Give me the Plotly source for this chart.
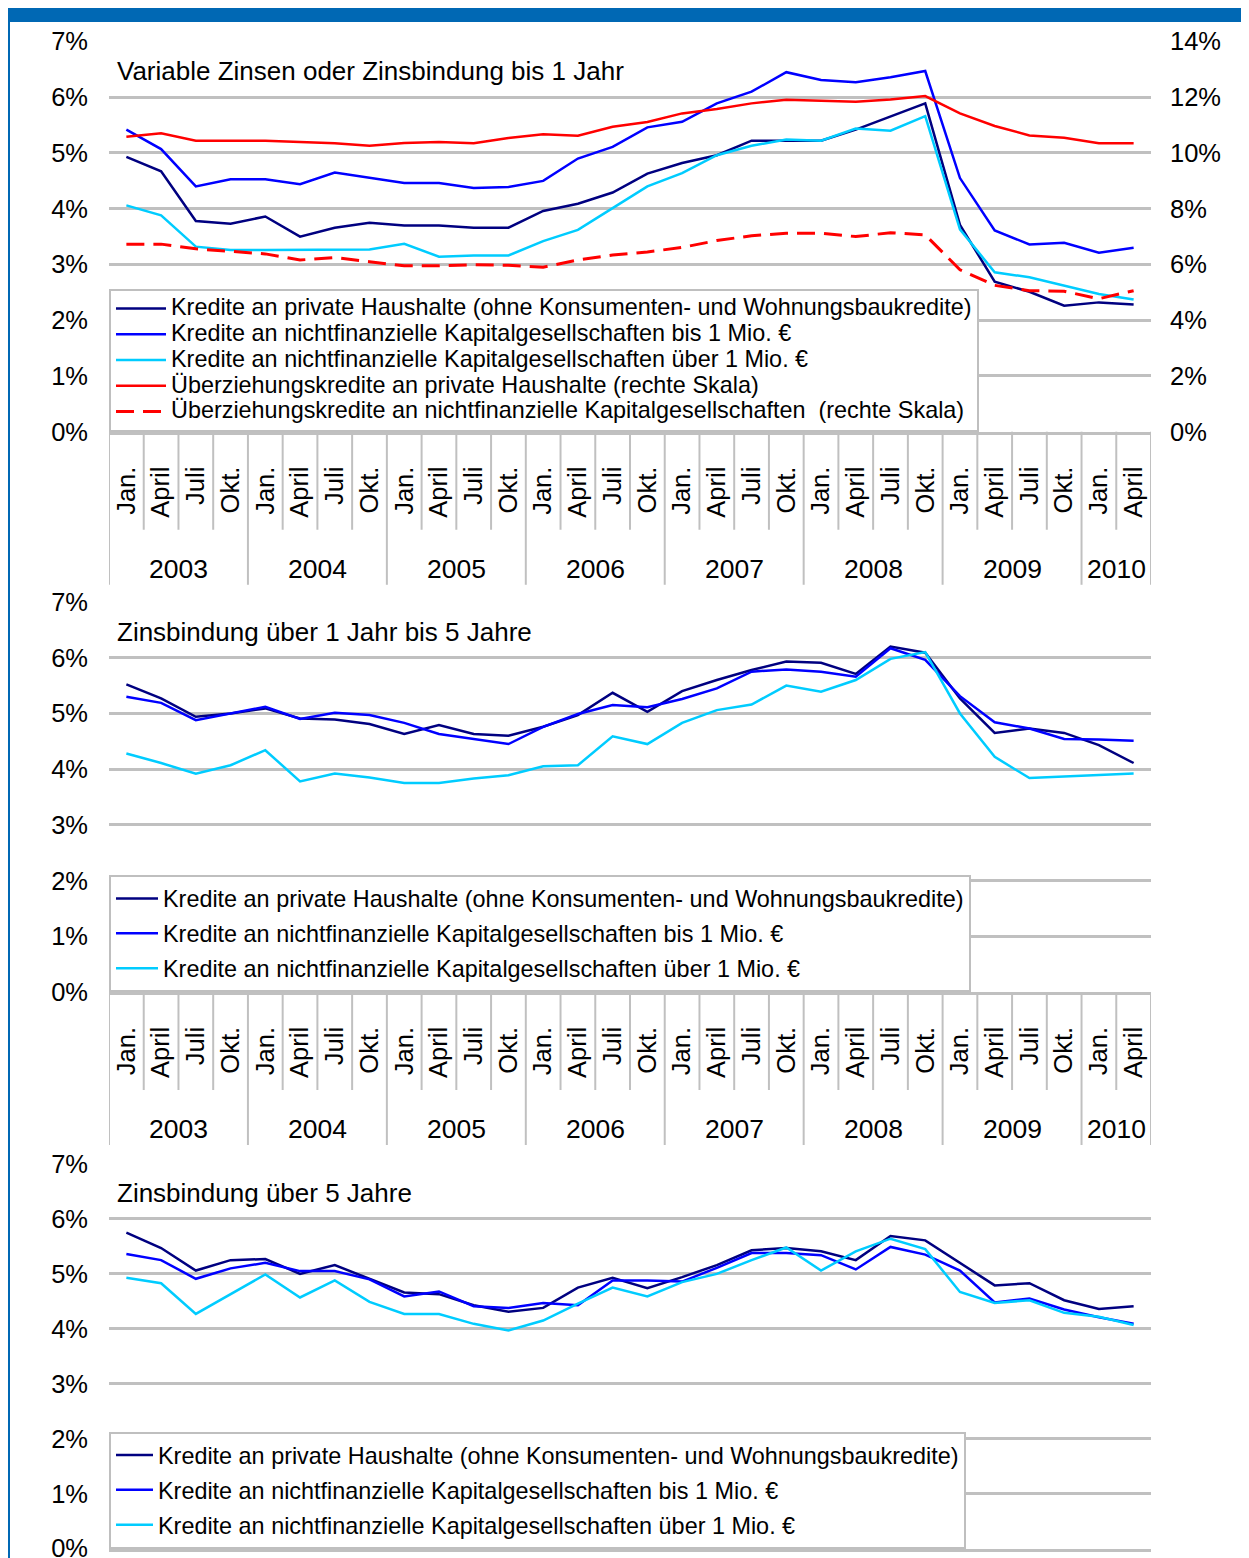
import plotly.graph_objects as go

# ---------------- data ----------------
quarters = ["Jan.", "April", "Juli", "Okt."] * 7 + ["Jan.", "April"]
years = ["2003", "2004", "2005", "2006", "2007", "2008", "2009", "2010"]
year_len = [4, 4, 4, 4, 4, 4, 4, 2]
x_idx = list(range(len(quarters)))

names = [
    "Kredite an private Haushalte (ohne Konsumenten- und Wohnungsbaukredite)",
    "Kredite an nichtfinanzielle Kapitalgesellschaften bis 1 Mio. €",
    "Kredite an nichtfinanzielle Kapitalgesellschaften über 1 Mio. €",
    "Überziehungskredite an private Haushalte (rechte Skala)",
    "Überziehungskredite an nichtfinanzielle Kapitalgesellschaften\u00a0 (rechte Skala)",
]
titles = [
    "Variable Zinsen oder Zinsbindung bis 1 Jahr",
    "Zinsbindung über 1 Jahr bis 5 Jahre",
    "Zinsbindung über 5 Jahre",
]

# Panel 1: variable / up to 1 year
p1_haushalte = [4.93, 4.67, 3.78, 3.73, 3.86, 3.50, 3.66, 3.75, 3.70, 3.70,
                3.66, 3.66, 3.96, 4.09, 4.29, 4.63, 4.82, 4.96, 5.22, 5.22,
                5.22, 5.42, 5.66, 5.89, 3.71, 2.69, 2.51, 2.26, 2.32, 2.28]
p1_kg_bis1 = [5.42, 5.07, 4.40, 4.53, 4.53, 4.44, 4.65, 4.55, 4.46, 4.46,
              4.37, 4.39, 4.50, 4.90, 5.11, 5.46, 5.56, 5.89, 6.10, 6.45,
              6.31, 6.27, 6.36, 6.47, 4.55, 3.61, 3.36, 3.39, 3.21, 3.30]
p1_kg_ueber1 = [4.06, 3.88, 3.32, 3.26, 3.26, 3.26, 3.27, 3.27, 3.37, 3.14,
                3.16, 3.16, 3.42, 3.62, 4.01, 4.40, 4.64, 4.96, 5.13, 5.24,
                5.22, 5.44, 5.40, 5.66, 3.63, 2.86, 2.77, 2.62, 2.47, 2.37]
p1_ueberz_hh = [10.58, 10.71, 10.44, 10.44, 10.44, 10.39, 10.35, 10.26, 10.36, 10.39,
                10.35, 10.54, 10.67, 10.62, 10.94, 11.11, 11.42, 11.58, 11.78, 11.91,
                11.88, 11.84, 11.92, 12.04, 11.42, 10.97, 10.63, 10.55, 10.35, 10.35]
p1_ueberz_kg = [6.73, 6.73, 6.56, 6.46, 6.38, 6.16, 6.25, 6.10, 5.95, 5.95,
                5.99, 5.97, 5.90, 6.16, 6.34, 6.45, 6.61, 6.86, 7.03, 7.12,
                7.12, 7.00, 7.14, 7.06, 5.81, 5.25, 5.06, 5.04, 4.77, 5.06]

# Panel 2: 1 to 5 years
p2_haushalte = [5.52, 5.27, 4.94, 5.00, 5.09, 4.91, 4.89, 4.81, 4.63, 4.79,
                4.63, 4.60, 4.76, 4.97, 5.37, 5.03, 5.40, 5.60, 5.78, 5.93,
                5.91, 5.71, 6.20, 6.09, 5.27, 4.65, 4.73, 4.65, 4.43, 4.11]
p2_kg_bis1 = [5.30, 5.19, 4.88, 5.00, 5.12, 4.90, 5.01, 4.97, 4.83, 4.63,
              4.54, 4.45, 4.76, 4.99, 5.15, 5.11, 5.26, 5.45, 5.75, 5.79,
              5.75, 5.66, 6.17, 5.96, 5.31, 4.84, 4.73, 4.54, 4.53, 4.51]
p2_kg_ueber1 = [4.28, 4.11, 3.92, 4.07, 4.34, 3.78, 3.92, 3.85, 3.75, 3.75,
                3.83, 3.89, 4.05, 4.07, 4.59, 4.45, 4.83, 5.06, 5.16, 5.50,
                5.39, 5.60, 5.98, 6.10, 5.00, 4.22, 3.84, 3.87, 3.89, 3.92]

# Panel 3: over 5 years
p3_haushalte = [5.75, 5.47, 5.06, 5.25, 5.27, 5.00, 5.16, 4.91, 4.66, 4.63,
                4.43, 4.31, 4.38, 4.75, 4.93, 4.74, 4.94, 5.16, 5.43, 5.47,
                5.41, 5.25, 5.69, 5.61, 5.20, 4.79, 4.83, 4.52, 4.36, 4.41]
p3_kg_bis1 = [5.36, 5.25, 4.91, 5.10, 5.20, 5.05, 5.05, 4.90, 4.59, 4.68,
              4.41, 4.38, 4.47, 4.43, 4.88, 4.88, 4.86, 5.11, 5.38, 5.38,
              5.34, 5.08, 5.49, 5.35, 5.06, 4.48, 4.55, 4.35, 4.21, 4.09]
p3_kg_ueber1 = [4.93, 4.83, 4.27, 4.63, 4.99, 4.57, 4.88, 4.49, 4.27, 4.27,
                4.09, 3.97, 4.15, 4.46, 4.75, 4.59, 4.85, 5.00, 5.25, 5.48,
                5.06, 5.41, 5.64, 5.45, 4.67, 4.47, 4.52, 4.29, 4.22, 4.07]

# ---------------- geometry (page pixels; the page body adds an 8px margin) ----------------
OFF = 8
FW, FH = 1249 - OFF, 1558 - OFF


def px(p):
    return max(0.0, (p - OFF) / FW)


def py(p):
    return min(1.0, 1 - (p - OFF) / FH)


X_DOM = [px(109), px(1151)]
P1 = [py(431.7), py(41.5)]
P2 = [py(992.0), py(602.0)]
P3 = [py(1548.5), py(1164.0)]

FONT = "Liberation Sans, Arial, sans-serif"
GRID = "#c0c0c0"
C_NAVY = "#000080"
C_BLUE = "#0000ff"
C_CYAN = "#00ccff"
C_RED = "#ff0000"
FRAME = "#0068b4"
LEG_TXT = '<span style="font-size:23.4px">%s</span>'

fig = go.Figure()


def add(y, name, color, xa, ya, legend, group, dash="solid", width=2.5):
    fig.add_trace(go.Scatter(
        x=x_idx, y=y, name=LEG_TXT % name, mode="lines",
        line=dict(color=color, width=width, dash=dash),
        xaxis=xa, yaxis=ya, legend=legend, legendgroup=group,
        hoverinfo="skip",
    ))


add(p1_haushalte, names[0], C_NAVY, "x", "y", "legend", "a1")
add(p1_kg_bis1, names[1], C_BLUE, "x", "y", "legend", "a2")
add(p1_kg_ueber1, names[2], C_CYAN, "x", "y", "legend", "a3")
add(p1_ueberz_hh, names[3], C_RED, "x", "y4", "legend", "a4")
add(p1_ueberz_kg, names[4], C_RED, "x", "y4", "legend", "a5", dash="18px,9px", width=3)

add(p2_haushalte, names[0], C_NAVY, "x2", "y2", "legend2", "b1")
add(p2_kg_bis1, names[1], C_BLUE, "x2", "y2", "legend2", "b2")
add(p2_kg_ueber1, names[2], C_CYAN, "x2", "y2", "legend2", "b3")

add(p3_haushalte, names[0], C_NAVY, "x3", "y3", "legend3", "c1")
add(p3_kg_bis1, names[1], C_BLUE, "x3", "y3", "legend3", "c2")
add(p3_kg_ueber1, names[2], C_CYAN, "x3", "y3", "legend3", "c3")

tickfont = dict(size=25.5, color="black", family=FONT)


def xaxis(anchor, labels=True):
    return dict(
        domain=X_DOM, anchor=anchor, range=[-0.5, len(x_idx) - 0.5],
        tickmode="array", tickvals=x_idx, ticktext=quarters, tickangle=-90,
        tickfont=tickfont, showticklabels=labels, showgrid=False, zeroline=False,
        showline=True, linecolor=GRID, linewidth=2.5, ticks="",
        ticklabelstandoff=22, automargin=False, fixedrange=True,
    )


def yaxis(dom, anchor):
    return dict(
        domain=dom, anchor=anchor, range=[0, 7], tick0=0, dtick=1,
        ticksuffix="%", tickfont=tickfont, showgrid=True, gridcolor=GRID,
        gridwidth=2.5, zeroline=False, showline=False, ticks="",
        ticklabelstandoff=20, ticklabeloverflow="allow",
        automargin=False, fixedrange=True,
    )


def legend(y, fsize, itemwidth, gap):
    return dict(
        bgcolor="white", bordercolor="#bfbfbf", borderwidth=2,
        font=dict(size=fsize, color="black", family=FONT),
        xanchor="left", yanchor="bottom", x=X_DOM[0], y=y,
        traceorder="grouped", itemwidth=itemwidth, tracegroupgap=gap,
    )


fig.update_layout(
    template="none",
    width=FW, height=FH,
    margin=dict(l=0, r=0, t=0, b=0),
    paper_bgcolor="white", plot_bgcolor="white",
    font=dict(family=FONT, color="black"),
    xaxis=xaxis("y"), xaxis2=xaxis("y2"), xaxis3=xaxis("y3", labels=False),
    yaxis=yaxis(P1, "x"), yaxis2=yaxis(P2, "x2"), yaxis3=yaxis(P3, "x3"),
    yaxis4=dict(
        overlaying="y", side="right", anchor="x", range=[0, 14], tick0=0,
        dtick=2, ticksuffix="%", tickfont=tickfont, showgrid=False,
        zeroline=False, showline=False, ticks="", ticklabelstandoff=18,
        automargin=False, fixedrange=True,
    ),
    legend=legend(P1[0], 17.5, 50, 0),
    legend2=legend(P2[0], 23, 42, 2),
    legend3=legend(P3[0], 23, 37, 2),
    showlegend=True,
)

shapes = []
annotations = []

# category separators and year labels for panels 1 and 2
year_bounds = [0]
for n in year_len:
    year_bounds.append(year_bounds[-1] + n)

for xa, ya in (("x", "y"), ("x2", "y2")):
    for k in range(len(x_idx) + 1):
        long = k in year_bounds
        shapes.append(dict(
            type="line", xref=xa, yref=ya + " domain",
            x0=k - 0.5, x1=k - 0.5, y0=0, y1=-(153 if long else 98) / 390,
            line=dict(color=GRID, width=2), layer="below",
        ))
    for yr, s, n in zip(years, year_bounds, year_len):
        annotations.append(dict(
            text=yr, xref=xa, yref=ya + " domain", x=s + (n - 1) / 2,
            y=-137 / 390, showarrow=False, xanchor="center", yanchor="middle",
            font=dict(size=26.5, color="black", family=FONT),
        ))

# panel titles
for t, ya in zip(titles, ("y", "y2", "y3")):
    annotations.append(dict(
        text=t, xref=ya.replace("y", "x") + " domain", yref=ya + " domain",
        x=0, xshift=6, y=0.924, xanchor="left", yanchor="middle",
        showarrow=False, font=dict(size=26, color="black", family=FONT),
    ))

# blue frame
shapes.append(dict(type="rect", xref="paper", yref="paper",
                   x0=px(7), x1=1, y0=py(22), y1=py(6),
                   fillcolor=FRAME, line=dict(width=0), layer="above"))
shapes.append(dict(type="rect", xref="paper", yref="paper",
                   x0=px(6), x1=px(10), y0=0, y1=py(6),
                   fillcolor=FRAME, line=dict(width=0), layer="above"))

fig.update_layout(shapes=shapes, annotations=annotations)

fig.write_html("out.html")
